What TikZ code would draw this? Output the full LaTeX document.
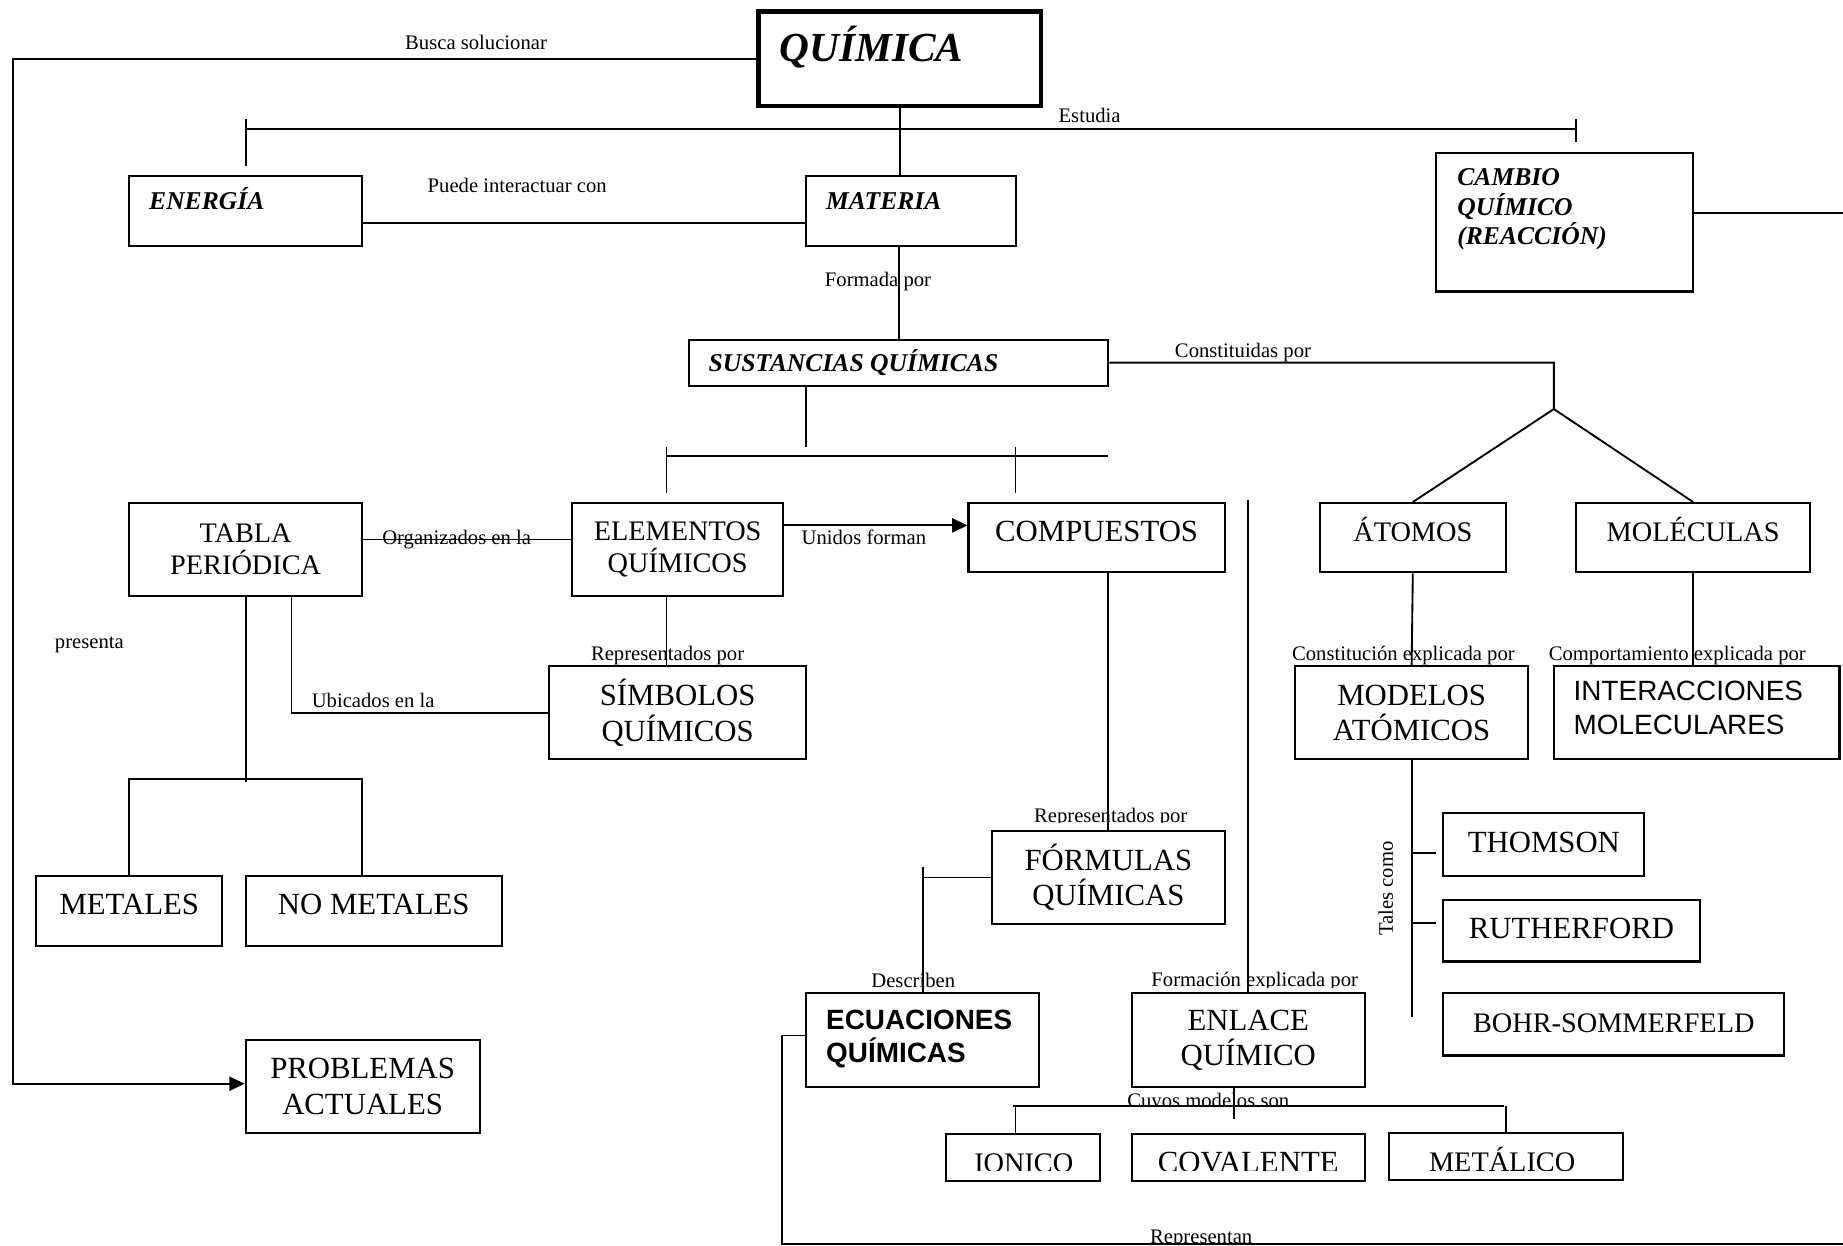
\documentclass[tikz,border=0pt]{standalone}
\usepackage{fontspec}
\setmainfont{Liberation Serif}
\setsansfont{Liberation Sans}
\usetikzlibrary{positioning,arrows.meta}

\newcommand{\boxFont}{\fontsize{7.45}{8.6}\selectfont}
\newcommand{\boxFontSm}{\fontsize{6.85}{7.8}\selectfont}
\newcommand{\linkFont}{\fontsize{5}{6}\selectfont}
\newcommand{\headFont}{\fontsize{6.2}{7.1}\selectfont\bfseries\itshape}
\newcommand{\titleFont}{\fontsize{10}{12}\selectfont\bfseries\itshape}
\newcommand{\sansBoxFont}{\fontsize{6.75}{8.1}\selectfont\sffamily}

\tikzset{
  concept/.style={rectangle, draw, line width=0.5pt, inner sep=0pt, align=center, font=\boxFont},
  mainConcept/.style={concept, line width=1.1pt},
  oneLine/.style={text height=2.2mm, text depth=1.6mm},
  modelLine/.style={text height=2.4mm, text depth=1.1mm},
  inText/.style={anchor=base west, inner sep=0pt, align=left},
  linkLabel/.style={font=\linkFont, inner sep=0pt, anchor=base},
  applyArrow/.style={-{Triangle[length=1.3mm,width=1.2mm]}}
}

\begin{document}
\begin{tikzpicture}[x=0.1mm, y=-0.1mm, line width=0.45pt]
\useasboundingbox (0,0) rectangle (1568,1060);

% concepts
\node[mainConcept, minimum width=24mm, minimum height=8mm,
  label={[inText, font=\titleFont, xshift=1.9mm, yshift=-4.4mm]north west:QUÍMICA}] (quimica) at (765.5,50) {};
\node[concept, minimum width=19.8mm, minimum height=5.9mm,
  label={[inText, font=\headFont, xshift=1.7mm, yshift=-2.9mm]north west:ENERGÍA}] (energia) at (209,179.5) {};
\node[concept, minimum width=17.8mm, minimum height=5.9mm,
  label={[inText, font=\headFont, xshift=1.7mm, yshift=-2.9mm]north west:MATERIA}] (materia) at (775,179.5) {};
\node[concept, minimum width=21.8mm, minimum height=11.8mm,
  label={[inText, font=\headFont, xshift=1.8mm, yshift=-7.9mm]north west:{CAMBIO\\QUÍMICO\\(REACCIÓN)}}] (cambio) at (1331,189) {};
\node[concept, minimum width=35.7mm, minimum height=3.9mm,
  label={[inText, font=\headFont, xshift=1.7mm, yshift=-2.8mm]north west:SUSTANCIAS QUÍMICAS}] (sustancias) at (764.5,308.5) {};

\node[concept, font=\boxFontSm, minimum width=19.8mm, minimum height=7.9mm] (tabla) at (209,467.5) {TABLA\\PERIÓDICA};
\node[concept, font=\boxFontSm, minimum width=17.9mm, minimum height=7.9mm] (elementos) at (576.5,467.5) {ELEMENTOS\\QUÍMICOS};
\node[concept, oneLine, minimum width=21.8mm, minimum height=5.9mm] (compuestos) at (933,457.5) {COMPUESTOS};
\node[concept, oneLine, font=\boxFontSm, minimum width=15.8mm, minimum height=5.9mm] (atomos) at (1202,457.5) {ÁTOMOS};
\node[concept, oneLine, font=\boxFontSm, minimum width=19.9mm, minimum height=5.9mm] (moleculas) at (1440.5,457.5) {MOLÉCULAS};

\node[concept, minimum width=21.9mm, minimum height=7.9mm] (simbolos) at (576.5,606.5) {SÍMBOLOS\\QUÍMICOS};
\node[concept, minimum width=19.8mm, minimum height=7.9mm] (modelos) at (1201,606.5) {MODELOS\\ATÓMICOS};
\node[concept, minimum width=24.3mm, minimum height=7.9mm,
  label={[inText, font=\sansBoxFont, xshift=1.7mm, yshift=-5.85mm]north west:{INTERACCIONES\\MOLECULARES}}] (interacciones) at (1443.5,606.5) {};

\node[concept, modelLine, minimum width=17.1mm, minimum height=5.3mm] (thomson) at (1313.5,718.5) {THOMSON};
\node[concept, modelLine, minimum width=21.8mm, minimum height=5.2mm] (rutherford) at (1337,792) {RUTHERFORD};
\node[concept, modelLine, font=\boxFontSm, minimum width=29mm, minimum height=5.3mm] (bohr) at (1373,871.5) {BOHR-SOMMERFELD};

\node[concept, minimum width=19.8mm, minimum height=7.9mm] (formulas) at (943,746.5) {FÓRMULAS\\QUÍMICAS};
\node[concept, oneLine, minimum width=15.8mm, minimum height=6mm] (metales) at (110,775) {METALES};
\node[concept, oneLine, minimum width=21.8mm, minimum height=6mm] (nometales) at (318,775) {NO METALES};
\node[concept, minimum width=19.8mm, minimum height=8mm,
  label={[inText, font=\sansBoxFont\bfseries, xshift=1.7mm, yshift=-6mm]north west:{ECUACIONES\\QUÍMICAS}}] (ecuaciones) at (785,885) {};
\node[concept, minimum width=19.8mm, minimum height=8mm] (enlace) at (1062,885) {ENLACE\\QUÍMICO};
\node[concept, minimum width=19.9mm, minimum height=7.9mm] (problemas) at (308.5,924.5) {PROBLEMAS\\ACTUALES};

\node[concept, minimum width=13.1mm, minimum height=4mm] (ionico) at (870.5,985) {};
\node[concept, minimum width=19.8mm, minimum height=4mm] (covalente) at (1062,985) {};
\node[concept, minimum width=19.9mm, minimum height=4mm] (metalico) at (1281.5,984) {};

% free ends
\coordinate (leftRail) at (11,0);
\coordinate (rightEdge) at (1568,0);
\coordinate (estudiaL) at (209,110);
\coordinate (estudiaR) at (1341,110);
\coordinate (fork) at (1322,348);
\coordinate (susDrop) at (686,380);
\coordinate (busL) at (567,388);
\coordinate (busR) at (943,388);
\coordinate (busTick) at (864,388);
\coordinate (enlaceTop) at (1062,425);
\coordinate (presBusL) at (110,663);
\coordinate (presBusR) at (308,663);
\coordinate (repCorner) at (665,1058);
\coordinate (cuyosL) at (862,941);
\coordinate (cuyosR) at (1280,941);
\coordinate (talesEnd) at (1201,865);
\coordinate (thomsonTick) at (1201,725.5);
\coordinate (rutherfordTick) at (1201,785);
\coordinate (cutLine) at (0,996);

% links
\draw[applyArrow] (quimica.west) -- (quimica.west -| leftRail) |- ([yshift=.25mm]problemas.west);
\draw (quimica.south) -- (quimica.south |- materia.north);
\draw (estudiaL) -- (estudiaR);
\draw ([yshift=.9mm]estudiaL) -- ([yshift=-3.1mm]estudiaL);
\draw ([yshift=.9mm]estudiaR) -- ([yshift=-1.1mm]estudiaR);
\draw ([yshift=2mm]energia.south east) -- ([yshift=2mm]energia.south east -| materia.west);
\draw ([yshift=.8mm]cambio.east) -- ([yshift=.8mm]cambio.east -| rightEdge);
\draw (sustancias.north) -- (sustancias.north |- materia.south);
\draw (sustancias.east) -| (fork) -- (atomos.north);
\draw (fork) -- (moleculas.north);

\draw (sustancias.south -| susDrop) -- (susDrop);
\draw (busL) -- (busR);
\draw ([yshift=.8mm]busL) -- ([yshift=-3.1mm]busL);
\draw ([yshift=.8mm]busTick) -- ([yshift=-3.1mm]busTick);
\draw ([yshift=.85mm]tabla.east) -- ([yshift=.85mm]elementos.west);
\draw[applyArrow] ([yshift=2.05mm]elementos.east) -- ([yshift=2.05mm]elementos.east -| compuestos.west);
\draw (enlaceTop) -- (enlace.north);

\draw ([xshift=-.95mm]elementos.south) -- ([xshift=-.95mm]simbolos.north);
\draw ([xshift=3.9mm]tabla.south) |- (simbolos.west);
\draw (tabla.south) -- ([yshift=-.2mm]tabla.south |- presBusL);
\draw (metales.north) |- (presBusR) -- (presBusR |- nometales.north);

\draw (formulas.north) -- (formulas.north |- compuestos.south);
\draw (formulas.west) -- (formulas.west -| ecuaciones.north);
\draw ([yshift=.9mm]formulas.west -| ecuaciones.north) -- (ecuaciones.north);
\draw ([yshift=.4mm]ecuaciones.west) -| (repCorner) -- (repCorner -| rightEdge);

\draw (cuyosL) -- (cuyosR);
\draw ([xshift=-1.2mm]enlace.south) -- ([xshift=-1.2mm,yshift=-2.6mm]enlace.south);
\draw ([xshift=-.65mm]ionico.north) -- ([xshift=-.65mm]ionico.north |- cuyosL);
\draw (metalico.north) -- (metalico.north |- cuyosR);

\draw (atomos.south) -- (modelos.north);
\draw (moleculas.south) -- (moleculas.south |- interacciones.north);
\draw (modelos.south) -- (modelos.south |- talesEnd);
\draw (thomsonTick) -- ++(21,0);
\draw (rutherfordTick) -- ++(21,0);

% link labels
\node[linkLabel] (busca) at (405,42.5) {Busca solucionar};
\node[linkLabel] (estudia) at (927,104.5) {Estudia};
\node[linkLabel] (puede) at (440,164) {Puede interactuar con};
\node[linkLabel] (formada) at (747,244) {Formada por};
\node[linkLabel] (constituidas) at (1057.5,304) {Constituidas por};
\node[linkLabel] (organizados) at (388.5,463) {Organizados en la};
\node[linkLabel] (unidos) at (735,463.5) {Unidos forman};
\node[linkLabel] (presenta) at (76,552) {presenta};
\node[linkLabel] (repElementos) at (568,562) {Representados por};
\node[linkLabel] (ubicados) at (317.5,602) {Ubicados en la};
\node[linkLabel] (constitucion) at (1194,562) {Constitución explicada por};
\node[linkLabel] (comportamiento) at (1427,562) {Comportamiento explicada por};
\node[linkLabel] (describen) at (777,840) {Describen};
\node[linkLabel, anchor=center, rotate=90] (tales) at (1179,756) {Tales como};

% texts cut at the bottom
\begin{scope}
  \clip (ionico.north west) rectangle (metalico.east |- cutLine)
        (870,675) rectangle (1020,700)
        (965,815) rectangle (1170,840)
        (945,920) rectangle (1115,941.5)
        (965,1035) rectangle (1080,1058.5);
  \node[font=\boxFontSm, inner sep=0pt, anchor=base] (ionicoText) at (871,997.5) {IONICO};
  \node[font=\boxFont, inner sep=0pt, anchor=base] (covalenteText) at (1062,997.5) {COVALENTE};
  \node[font=\boxFontSm, inner sep=0pt, anchor=base] (metalicoText) at (1278,997) {METÁLICO};
  \node[linkLabel] (repFormulas) at (945,699.5) {Representados por};
  \node[linkLabel] (formacion) at (1067.5,839.5) {Formación explicada por};
  \node[linkLabel] (cuyos) at (1028,942) {Cuyos modelos son};
  \node[linkLabel] (representan) at (1022,1058) {Representan};
\end{scope}
\end{tikzpicture}
\end{document}
